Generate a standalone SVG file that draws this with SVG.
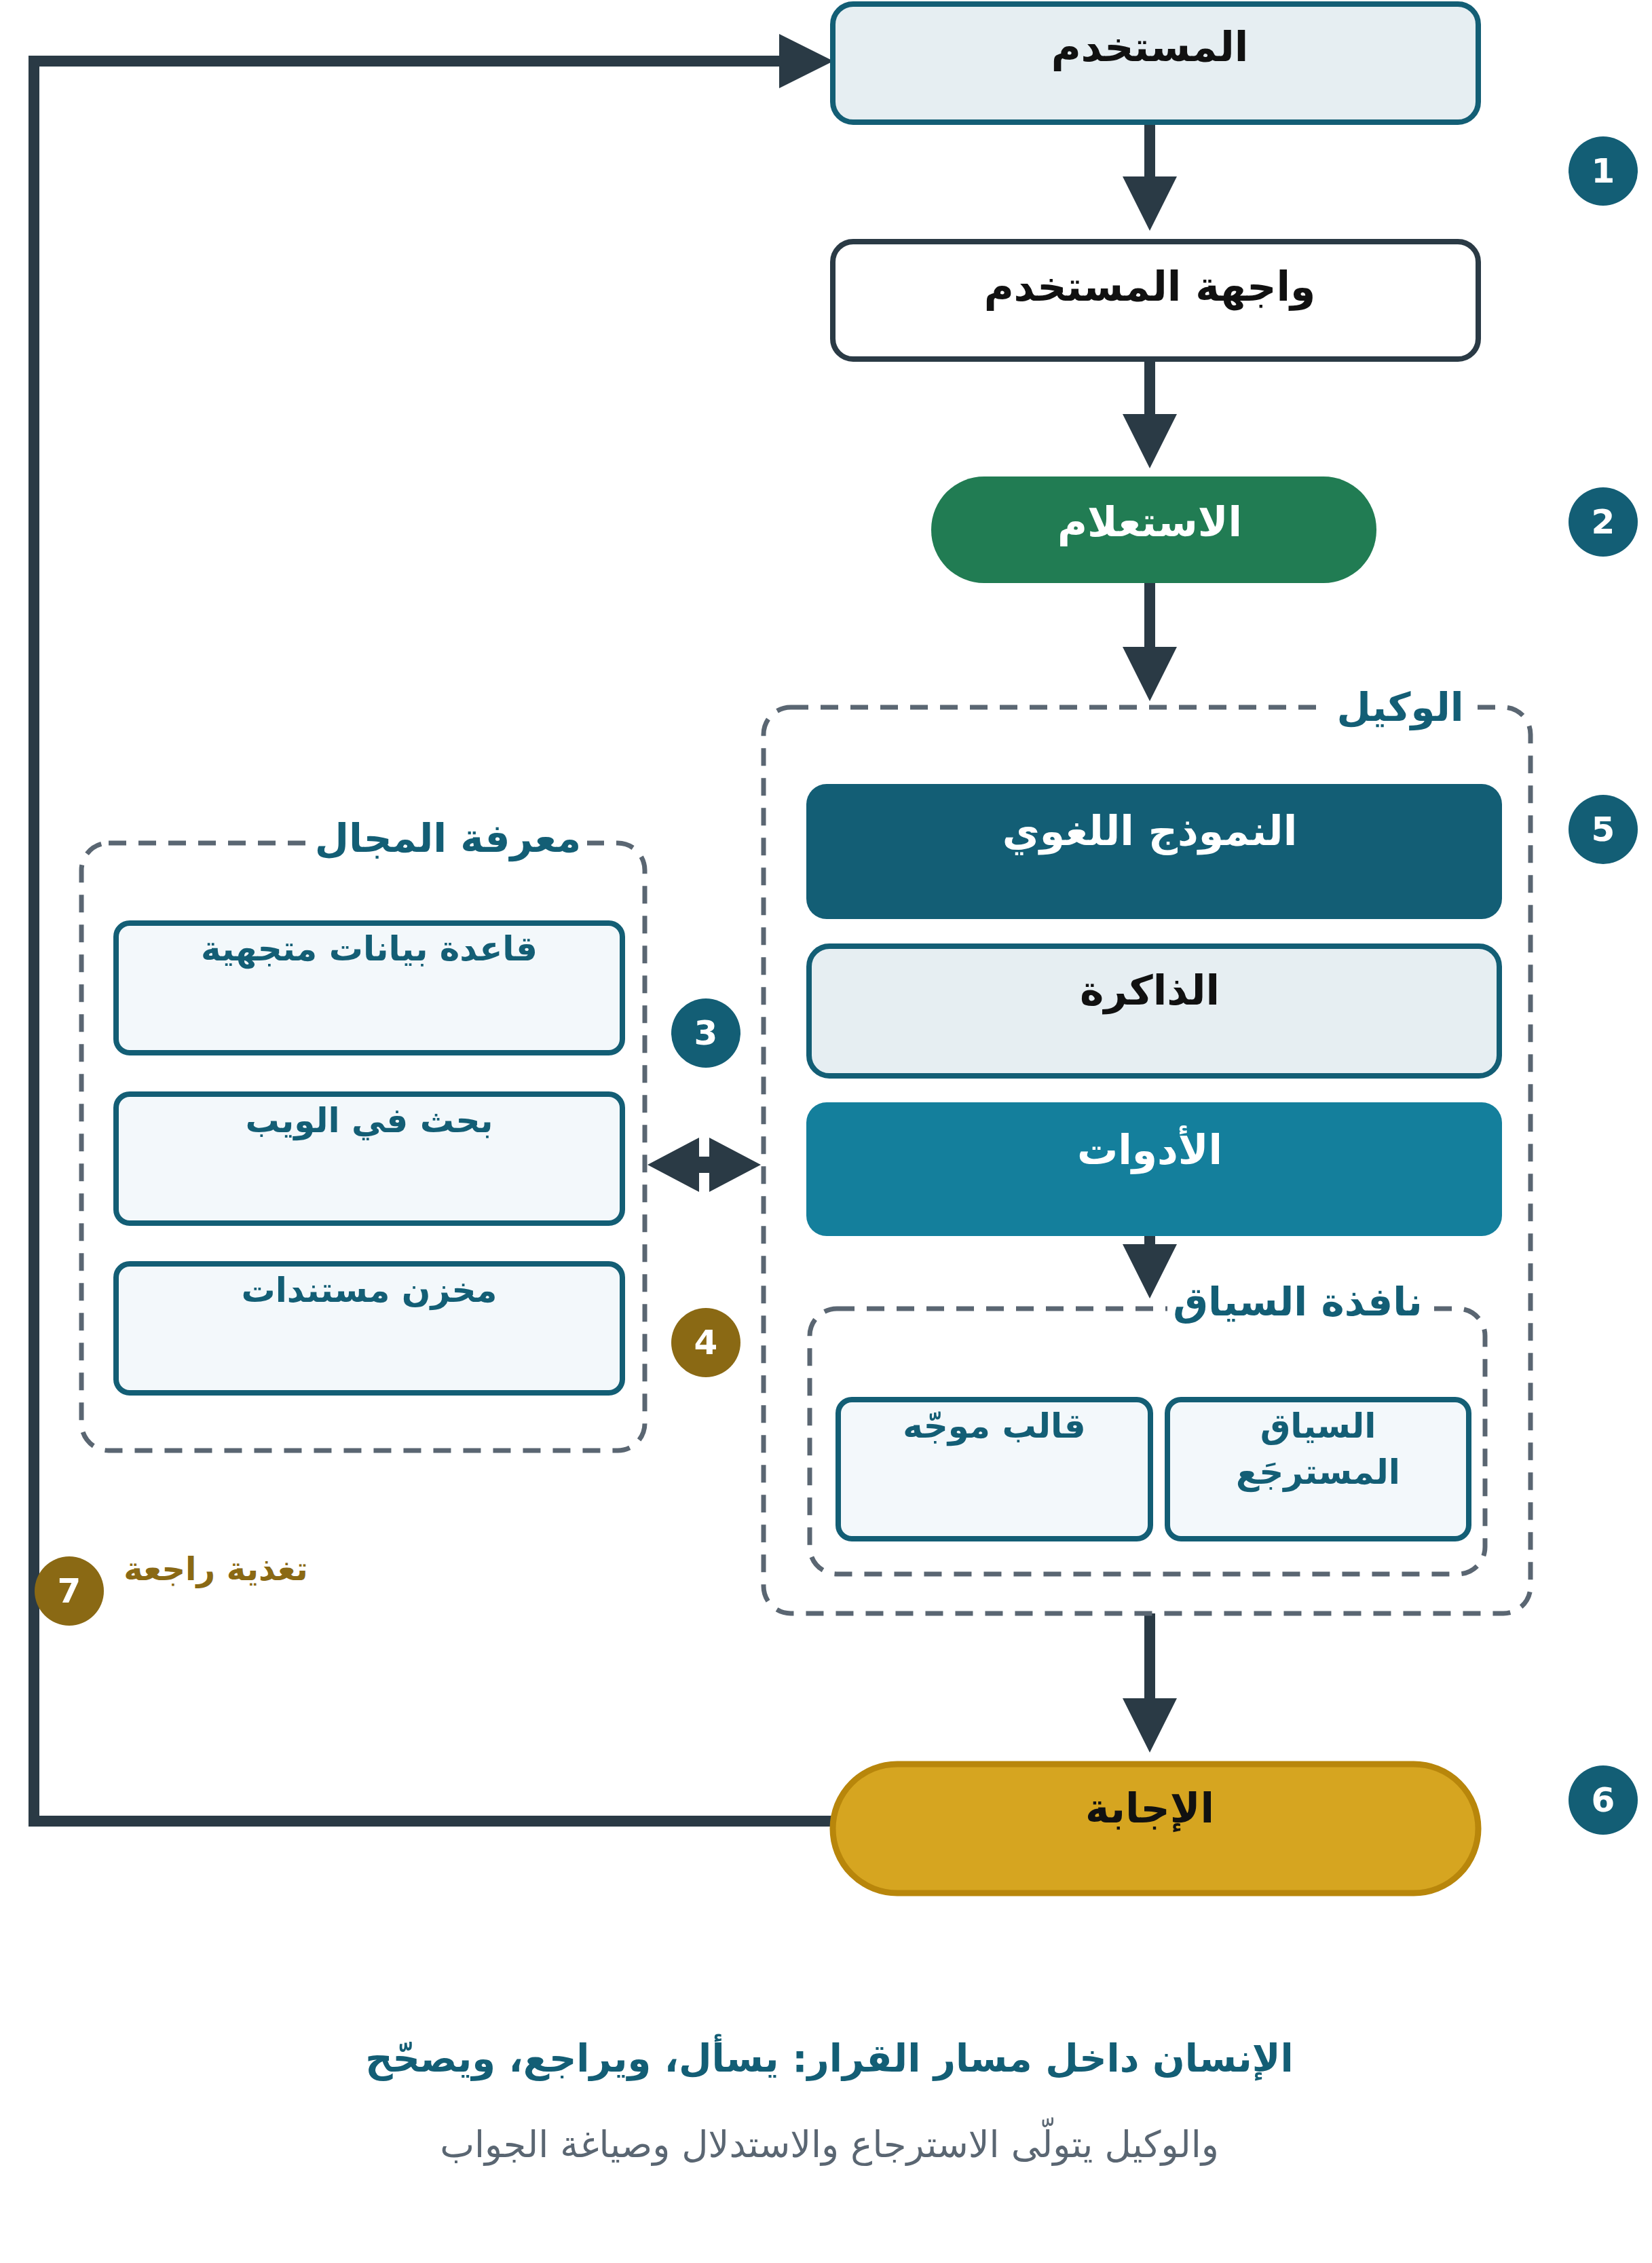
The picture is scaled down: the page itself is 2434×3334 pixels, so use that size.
<svg xmlns="http://www.w3.org/2000/svg" width="2434" height="3334" viewBox="0 0 2434 3334">
<style>
text{font-family:"DejaVu Sans","Noto Sans",sans-serif;text-anchor:middle;font-weight:bold}
.lbl{font-size:60px;fill:#111}
.w{fill:#fff}
.sm{font-size:50px;fill:#135e75}
.grp{font-size:58px;fill:#135e75}
.dash{fill:none;stroke:#5a6672;stroke-width:7;stroke-dasharray:26 18}
.inner{fill:#f3f8fb;stroke:#135e75;stroke-width:8}
.ln{stroke:#2a3a45;stroke-width:16;fill:none}
.bn{font-size:50px;fill:#fff;dominant-baseline:central}
</style>
<defs>
<marker id="ah" markerUnits="userSpaceOnUse" markerWidth="84" markerHeight="84" refX="2" refY="40" orient="auto" overflow="visible"><path d="M0,0 L80,40 L0,80 Z" fill="#2a3a45"/></marker>
</defs>
<g id="connectors">
<line class="ln" x1="1694" y1="180" x2="1694" y2="262" marker-end="url(#ah)"/>
<line class="ln" x1="1694" y1="529" x2="1694" y2="612" marker-end="url(#ah)"/>
<line class="ln" x1="1694" y1="857" x2="1694" y2="955" marker-end="url(#ah)"/>
<line class="ln" x1="1694" y1="1815" x2="1694" y2="1835" marker-end="url(#ah)"/>
<line class="ln" x1="1694" y1="2377" x2="1694" y2="2504" marker-end="url(#ah)"/>
<polyline class="ln" points="1227,2683 50,2683 50,90 1150,90" marker-end="url(#ah)"/>
<path d="M954,1716 L1030,1676 L1030,1704 L1045,1704 L1045,1676 L1121,1716 L1045,1756 L1045,1728 L1030,1728 L1030,1756 Z" fill="#2a3a45"/>
</g>
<g id="user"><rect x="1227" y="6" width="951" height="174" rx="30" fill="#e6eef2" stroke="#135e75" stroke-width="8"/><text class="lbl" x="1694" y="90">المستخدم</text></g>
<g id="ui"><rect x="1227" y="356" width="951" height="173" rx="30" fill="#fff" stroke="#2a3a45" stroke-width="8"/><text class="lbl" x="1694" y="443">واجهة المستخدم</text></g>
<g id="query"><rect x="1372" y="702" width="656" height="157" rx="78" fill="#217c53"/><text class="lbl w" x="1694" y="790">الاستعلام</text></g>
<g id="agent"><rect class="dash" x="1125" y="1042" width="1130" height="1335" rx="40"/><rect x="1955" y="1010" width="215" height="60" fill="#fff"/><text class="grp" x="2063" y="1062">الوكيل</text></g>
<g id="llm"><rect x="1188" y="1155" width="1025" height="199" rx="30" fill="#135e75"/><text class="lbl w" x="1694" y="1245" font-size="64">النموذج اللغوي</text></g>
<g id="memory"><rect x="1192" y="1394" width="1017" height="191" rx="30" fill="#e6eef2" stroke="#135e75" stroke-width="8"/><text class="lbl" x="1694" y="1480">الذاكرة</text></g>
<g id="tools"><rect x="1188" y="1624" width="1025" height="197" rx="30" fill="#147f9c"/><text class="lbl w" x="1694" y="1715">الأدوات</text></g>
<g id="context"><rect class="dash" x="1193" y="1928" width="995" height="391" rx="40"/><rect x="1720" y="1880" width="385" height="80" fill="#fff"/><text class="grp" x="1912" y="1938">نافذة السياق</text></g>
<g id="template"><rect class="inner" x="1235" y="2062" width="460" height="205" rx="20"/><text class="sm" x="1465" y="2118">قالب موجّه</text></g>
<g id="retrieved"><rect class="inner" x="1720" y="2062" width="444" height="205" rx="20"/><text class="sm" x="1942" y="2118">السياق</text><text class="sm" x="1942" y="2186">المسترجَع</text></g>
<g id="domain"><rect class="dash" x="120" y="1242" width="830" height="895" rx="40"/><rect x="455" y="1200" width="410" height="70" fill="#fff"/><text class="grp" x="660" y="1255">معرفة المجال</text></g>
<g id="vectordb"><rect class="inner" x="171" y="1360" width="746" height="191" rx="20"/><text class="sm" x="544" y="1415">قاعدة بيانات متجهية</text></g>
<g id="web"><rect class="inner" x="171" y="1612" width="746" height="190" rx="20"/><text class="sm" x="544" y="1668">بحث في الويب</text></g>
<g id="docs"><rect class="inner" x="171" y="1862" width="746" height="190" rx="20"/><text class="sm" x="544" y="1918">مخزن مستندات</text></g>
<g id="answer"><rect x="1227" y="2599" width="951" height="190" rx="95" fill="#d6a520" stroke="#b8860b" stroke-width="9"/><text class="lbl" x="1694" y="2685">الإجابة</text></g>
<g id="badges">
<circle cx="2362" cy="252" r="51" fill="#135e75"/><text class="bn" x="2362" y="252">1</text>
<circle cx="2362" cy="769" r="51" fill="#135e75"/><text class="bn" x="2362" y="769">2</text>
<circle cx="1040" cy="1522" r="51" fill="#135e75"/><text class="bn" x="1040" y="1522">3</text>
<circle cx="1040" cy="1978" r="51" fill="#8a6914"/><text class="bn" x="1040" y="1978">4</text>
<circle cx="2362" cy="1222" r="51" fill="#135e75"/><text class="bn" x="2362" y="1222">5</text>
<circle cx="2362" cy="2652" r="51" fill="#135e75"/><text class="bn" x="2362" y="2652">6</text>
<circle cx="102" cy="2344" r="51" fill="#8a6914"/><text class="bn" x="102" y="2344">7</text>
</g>
<g id="feedback-label"><text x="318" y="2328" font-size="48" fill="#8a6914">تغذية راجعة</text></g>
<g id="title"><text x="1222" y="3052" font-size="56" fill="#135e75">الإنسان داخل مسار القرار: يسأل، ويراجع، ويصحّح</text>
<text x="1222" y="3178" font-size="54" fill="#5a6672" style="font-weight:normal">والوكيل يتولّى الاسترجاع والاستدلال وصياغة الجواب</text></g>
</svg>
